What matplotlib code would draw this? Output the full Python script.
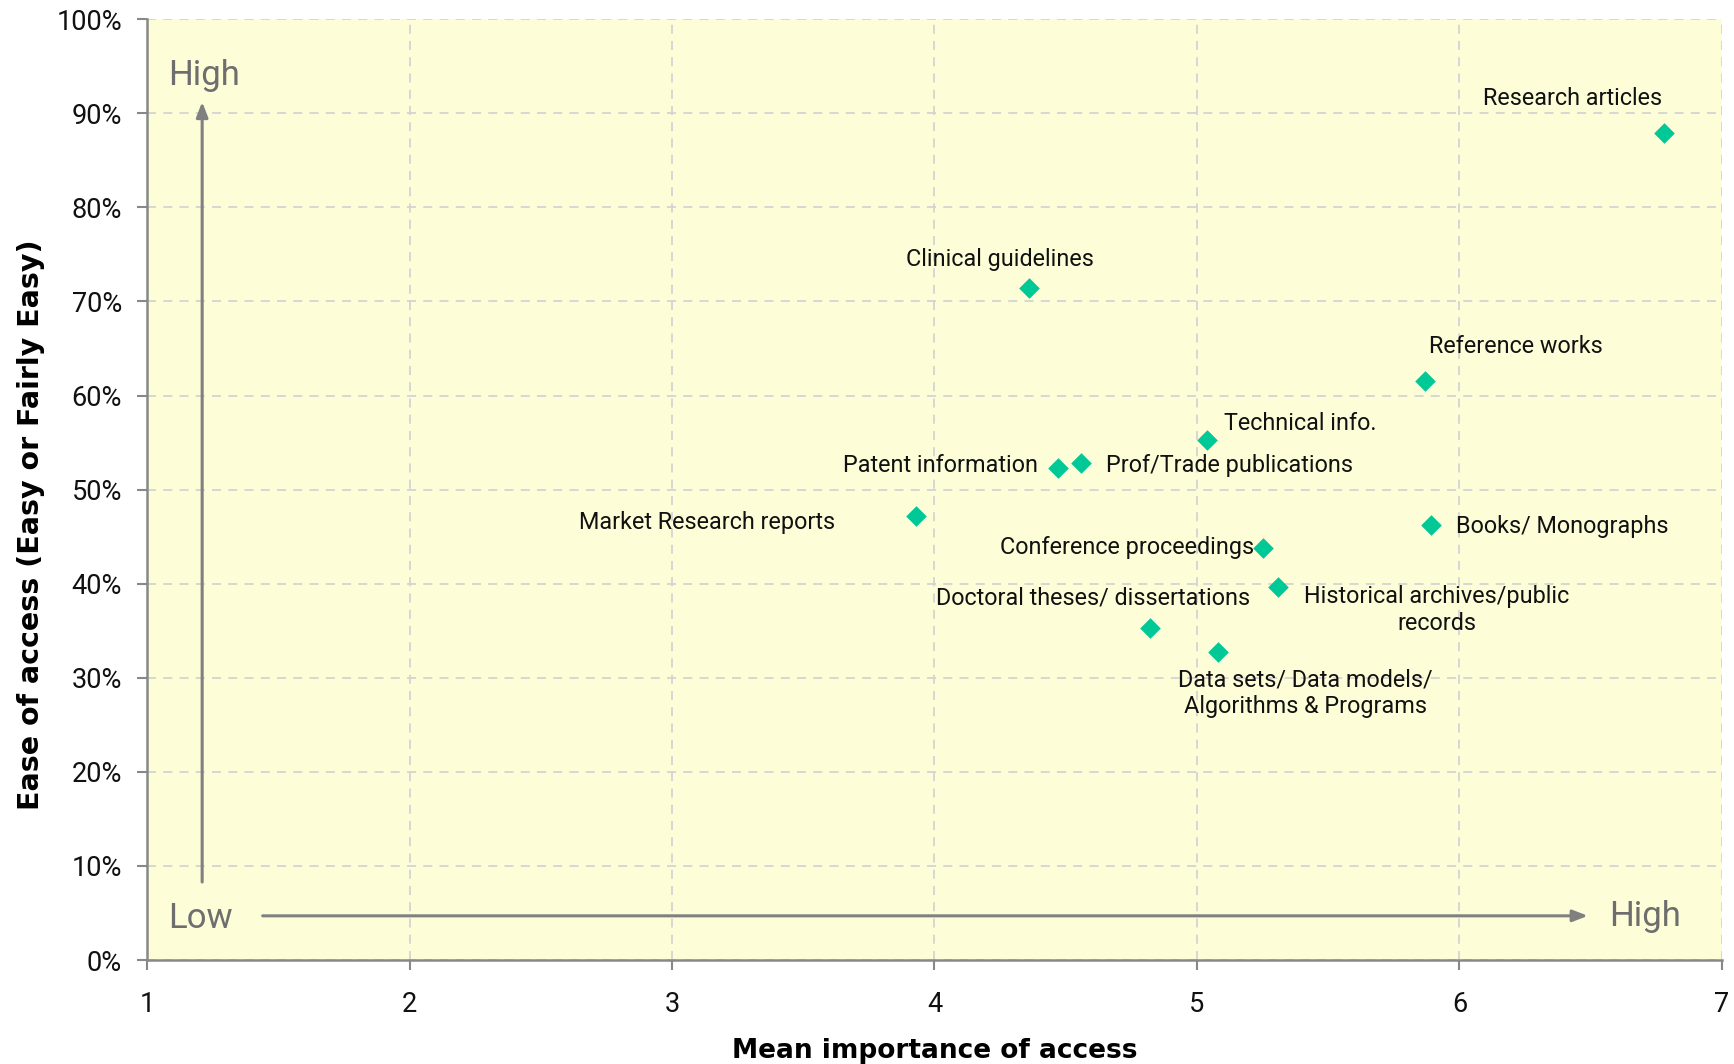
import matplotlib
matplotlib.use("Agg")
import matplotlib.pyplot as plt
from matplotlib.ticker import FuncFormatter

labels = ["Research articles", "Clinical guidelines", "Reference works", "Technical info.",
          "Prof/Trade publications", "Patent information", "Market Research reports",
          "Books/ Monographs", "Conference proceedings", "Historical archives/public\nrecords",
          "Doctoral theses/ dissertations", "Data sets/ Data models/\nAlgorithms & Programs"]
importance = [6.78, 4.36, 5.87, 5.04, 4.56, 4.47, 3.93, 5.89, 5.25, 5.31, 4.82, 5.08]
ease = [87.9, 71.4, 61.5, 55.3, 52.8, 52.3, 47.2, 46.2, 43.8, 39.7, 35.3, 32.7]

x_ticks = [1, 2, 3, 4, 5, 6, 7]
y_ticks = [0, 10, 20, 30, 40, 50, 60, 70, 80, 90, 100]

# label placement (offset in points, horizontal alignment)
label_style = {
    "Research articles": ((-66, 25), "center"),
    "Clinical guidelines": ((-21, 21), "center"),
    "Reference works": ((65, 25), "center"),
    "Technical info.": ((12, 12), "left"),
    "Prof/Trade publications": ((18, -1.5), "left"),
    "Patent information": ((-14, 1.5), "right"),
    "Market Research reports": ((-58, -5), "right"),
    "Books/ Monographs": ((18, -1), "left"),
    "Conference proceedings": ((-6.4, 0), "right"),
    "Historical archives/public\nrecords": ((114, -17), "center"),
    "Doctoral theses/ dissertations": ((-41, 21.5), "center"),
    "Data sets/ Data models/\nAlgorithms & Programs": ((63, -29.5), "center"),
}

FONT = "Roboto"
fig = plt.figure(figsize=(17.34, 10.64), dpi=100)
ax = fig.add_axes([0.0848, 0.0977, 0.993 - 0.0848, 0.982 - 0.0977])
ax.set_facecolor("#FDFDD8")

ax.scatter(importance, ease, marker="D", s=110, color="#00C896", zorder=3, linewidths=0)

for lab, xv, yv in zip(labels, importance, ease):
    off, ha = label_style[lab]
    ax.annotate(lab, (xv, yv), xytext=off, textcoords="offset points", ha=ha, va="center",
                fontsize=16.8, family=FONT, color="#111111", multialignment="center",
                linespacing=1.2, zorder=4)

ax.set_xlim(1, 7)
ax.set_ylim(0, 100)
ax.set_xticks(x_ticks)
ax.set_yticks(y_ticks)
ax.yaxis.set_major_formatter(FuncFormatter(lambda v, p: f"{int(v)}%"))
ax.grid(True, color="#D3D3D3", linestyle=(0, (5, 4)), linewidth=1.3, zorder=1)
ax.set_axisbelow(True)
for s in ["top", "right"]:
    ax.spines[s].set_visible(False)
for s in ["left", "bottom"]:
    ax.spines[s].set_color("#888888")
    ax.spines[s].set_linewidth(1.8)
ax.tick_params(axis="both", colors="#888888", length=7, width=1.5, labelcolor="#111111",
               labelsize=19.5)
ax.tick_params(axis="x", pad=15)
ax.tick_params(axis="y", pad=11)
for t in ax.get_xticklabels() + ax.get_yticklabels():
    t.set_family(FONT)

ax.set_xlabel("Mean importance of access", fontsize=19, fontweight="bold",
              family="DejaVu Sans", labelpad=15)
ax.set_ylabel("Ease of access (Easy or Fairly Easy)", fontsize=20.5, fontweight="bold",
              family="DejaVu Sans", va="center")
ax.yaxis.set_label_coords(-0.0737, 0.463)

# quadrant arrows
arrow_kw = dict(arrowstyle="-|>,head_length=0.9,head_width=0.35", color="#808080", lw=2.2)
ax.annotate("", xy=(1.21, 91.5), xytext=(1.21, 8.0), arrowprops=arrow_kw, zorder=2)
ax.annotate("", xy=(6.5, 4.7), xytext=(1.43, 4.7), arrowprops=arrow_kw, zorder=2)
ax.text(1.08, 94.0, "High", fontsize=25, family=FONT, color="#6E6E6E", ha="left", va="center")
ax.text(1.08, 4.4, "Low", fontsize=25, family=FONT, color="#6E6E6E", ha="left", va="center")
ax.text(6.57, 4.6, "High", fontsize=25, family=FONT, color="#6E6E6E", ha="left", va="center")

fig.savefig("out.png", dpi=100)
